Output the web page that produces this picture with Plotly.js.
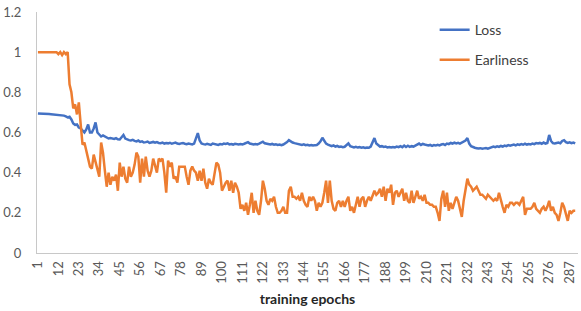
<!DOCTYPE html>
<html>
<head>
<meta charset="utf-8">
<script src="https://cdn.plot.ly/plotly-3.0.1.min.js"></script>
<style>html,body{margin:0;padding:0;background:#fff;}#chart{width:581px;height:311px;}</style>
</head>
<body>
<div id="chart"></div>
<script>
// Earliness per training epoch
const earliness = [
1,1,1,1,1,1,1,1,1,1,
1,0.99,1,0.985,1,0.99,1,0.84,0.80,0.72,
0.74,0.69,0.75,0.64,0.54,0.55,0.50,0.47,0.43,0.42,
0.49,0.45,0.42,0.38,0.55,0.50,0.41,0.33,0.40,0.34,
0.38,0.36,0.39,0.31,0.45,0.38,0.43,0.37,0.35,0.43,
0.38,0.40,0.44,0.50,0.48,0.35,0.47,0.38,0.48,0.41,
0.38,0.41,0.47,0.44,0.40,0.47,0.46,0.47,0.40,0.30,
0.46,0.43,0.45,0.37,0.38,0.35,0.43,0.43,0.43,0.43,
0.38,0.34,0.41,0.43,0.41,0.40,0.36,0.41,0.36,0.42,
0.35,0.32,0.37,0.35,0.34,0.40,0.45,0.44,0.40,0.31,
0.33,0.35,0.36,0.31,0.36,0.30,0.35,0.33,0.30,0.22,
0.24,0.21,0.25,0.19,0.24,0.30,0.20,0.26,0.21,0.19,
0.26,0.36,0.32,0.26,0.24,0.27,0.26,0.28,0.23,0.20,
0.20,0.21,0.23,0.20,0.20,0.31,0.33,0.28,0.28,0.27,
0.28,0.26,0.30,0.26,0.24,0.23,0.28,0.26,0.28,0.26,
0.21,0.25,0.23,0.25,0.30,0.36,0.25,0.36,0.26,0.22,
0.21,0.25,0.26,0.23,0.26,0.23,0.26,0.28,0.21,0.23,
0.20,0.24,0.28,0.23,0.27,0.28,0.23,0.26,0.28,0.26,
0.29,0.31,0.29,0.30,0.32,0.28,0.33,0.26,0.32,0.30,
0.34,0.24,0.30,0.31,0.28,0.30,0.32,0.26,0.30,0.26,
0.25,0.31,0.25,0.28,0.31,0.27,0.28,0.26,0.29,0.25,
0.25,0.24,0.24,0.23,0.23,0.20,0.16,0.27,0.31,0.23,
0.30,0.21,0.25,0.22,0.25,0.28,0.26,0.21,0.18,0.26,
0.32,0.37,0.34,0.33,0.31,0.32,0.33,0.31,0.29,0.29,
0.28,0.27,0.29,0.28,0.27,0.26,0.27,0.26,0.30,0.26,
0.23,0.20,0.24,0.23,0.25,0.25,0.24,0.25,0.25,0.24,
0.26,0.28,0.19,0.22,0.22,0.22,0.23,0.25,0.22,0.21,
0.20,0.22,0.23,0.21,0.23,0.26,0.21,0.23,0.20,0.19,
0.16,0.20,0.25,0.23,0.19,0.16,0.21,0.20,0.21,0.21
];

// Loss per training epoch
const loss = [
0.695,0.695,0.694,0.694,0.693,0.692,0.692,0.691,0.690,0.690,
0.689,0.688,0.688,0.686,0.684,0.680,0.675,0.678,0.665,0.645,
0.638,0.640,0.625,0.620,0.610,0.600,0.615,0.640,0.600,0.600,
0.620,0.650,0.600,0.590,0.580,0.585,0.580,0.575,0.570,0.572,
0.570,0.568,0.572,0.566,0.565,0.575,0.588,0.570,0.565,0.562,
0.560,0.563,0.558,0.556,0.560,0.553,0.556,0.550,0.552,0.555,
0.548,0.550,0.553,0.549,0.552,0.548,0.547,0.550,0.545,0.548,
0.546,0.549,0.544,0.547,0.550,0.545,0.543,0.546,0.548,0.544,
0.542,0.545,0.543,0.541,0.545,0.570,0.597,0.560,0.545,0.542,
0.540,0.544,0.541,0.538,0.545,0.543,0.540,0.538,0.542,0.540,
0.545,0.543,0.546,0.541,0.543,0.540,0.544,0.542,0.540,0.543,
0.541,0.544,0.548,0.552,0.545,0.542,0.540,0.543,0.541,0.545,
0.550,0.554,0.546,0.543,0.541,0.540,0.543,0.539,0.541,0.538,
0.540,0.537,0.540,0.545,0.552,0.562,0.555,0.550,0.547,0.545,
0.543,0.540,0.538,0.541,0.537,0.539,0.536,0.538,0.535,0.537,
0.538,0.545,0.556,0.574,0.556,0.545,0.540,0.535,0.532,0.536,
0.530,0.533,0.528,0.530,0.527,0.529,0.538,0.546,0.532,0.528,
0.526,0.529,0.525,0.527,0.524,0.526,0.523,0.525,0.524,0.530,
0.548,0.572,0.545,0.535,0.530,0.532,0.528,0.530,0.526,0.528,
0.525,0.528,0.526,0.530,0.527,0.532,0.527,0.535,0.528,0.534,
0.528,0.532,0.530,0.535,0.540,0.545,0.538,0.543,0.540,0.536,
0.535,0.538,0.533,0.537,0.535,0.539,0.536,0.540,0.542,0.538,
0.545,0.542,0.548,0.545,0.550,0.546,0.549,0.545,0.550,0.552,
0.560,0.572,0.545,0.532,0.527,0.524,0.522,0.520,0.522,0.519,
0.521,0.523,0.520,0.524,0.528,0.530,0.527,0.531,0.528,0.533,
0.530,0.535,0.532,0.537,0.534,0.538,0.540,0.536,0.541,0.538,
0.542,0.539,0.544,0.540,0.543,0.541,0.545,0.542,0.547,0.545,
0.548,0.544,0.550,0.545,0.548,0.588,0.558,0.547,0.545,0.548,
0.550,0.546,0.558,0.562,0.552,0.548,0.551,0.547,0.550,0.546
];

// x-axis tick labels shown in the reference
const epochTicks = [1,12,23,34,45,56,67,78,89,100,111,122,133,144,155,166,177,188,199,210,221,232,243,254,265,276,287];
const yTicks = [0,0.2,0.4,0.6,0.8,1,1.2];

const epochs = loss.map((_, i) => i + 1);

const FONT = 'Lato, "Open Sans", "DejaVu Sans", sans-serif';
const traces = [
  {x: epochs, y: loss, name: 'Loss', type: 'scatter', mode: 'lines',
   line: {color: '#4472C4', width: 2.5}, legend: 'legend'},
  {x: epochs, y: earliness, name: 'Earliness', type: 'scatter', mode: 'lines',
   line: {color: '#ED7D31', width: 2.5}, legend: 'legend2'}
];

const legendBase = {xanchor: 'left', yanchor: 'middle', bgcolor: 'rgba(0,0,0,0)',
  font: {family: FONT, size: 14, color: '#404040'}, itemwidth: 30};

const layout = {
  width: 581, height: 311,
  margin: {l: 37, r: 3, t: 12, b: 58},
  paper_bgcolor: '#fff', plot_bgcolor: '#fff',
  font: {family: FONT, color: '#595959'},
  showlegend: true,
  legend: Object.assign({x: 0.735, y: 0.925}, legendBase),
  legend2: Object.assign({x: 0.735, y: 0.80}, legendBase),
  xaxis: {
    range: [0.5, 291.5], tickmode: 'array', tickvals: epochTicks,
    ticktext: epochTicks.map(String), tickangle: -90,
    tickfont: {family: FONT, size: 13, color: '#595959'},
    showgrid: false, zeroline: false, showline: true, linecolor: '#c8c8c8', linewidth: 1,
    ticks: '', ticklabelstandoff: 2,
    title: {text: '<b>training epochs</b>', font: {family: FONT, size: 14, color: '#262626'}, standoff: 11},
    automargin: false
  },
  yaxis: {
    range: [0, 1.2], tickmode: 'array', tickvals: yTicks,
    ticktext: yTicks.map(String),
    tickfont: {family: FONT, size: 13, color: '#595959'},
    showgrid: false, zeroline: false, showline: true, linecolor: '#c8c8c8', linewidth: 1,
    ticks: '', ticklabelstandoff: 12, automargin: false
  }
};

Plotly.newPlot('chart', traces, layout, {displayModeBar: false, staticPlot: true});
</script>
</body>
</html>
